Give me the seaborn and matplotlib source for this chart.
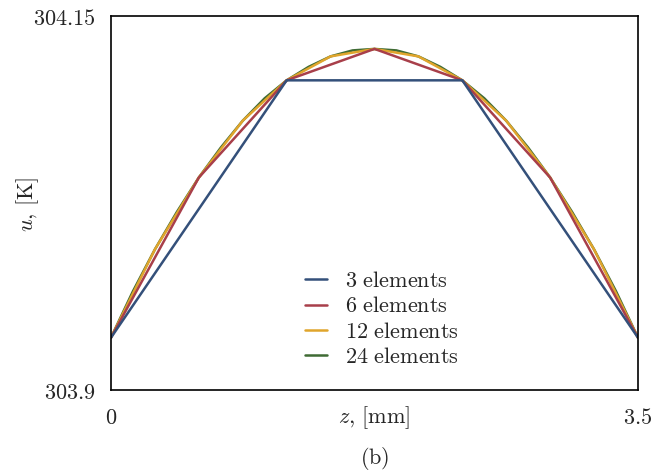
import matplotlib
matplotlib.use("Agg")
import matplotlib.pyplot as plt
import seaborn as sns
import pandas as pd
from matplotlib.ticker import FixedLocator, FixedFormatter

# ---- data ----
z3 = [0.0, 1.1667, 2.3333, 3.5]
u3 = [303.935, 304.107, 304.107, 303.935]

z6 = [0.0, 0.5833, 1.1667, 1.75, 2.3333, 2.9167, 3.5]
u6 = [303.935, 304.042, 304.107, 304.128, 304.107, 304.042, 303.935]

z12 = [0.0, 0.2917, 0.5833, 0.875, 1.1667, 1.4583, 1.75,
       2.0417, 2.3333, 2.625, 2.9167, 3.2083, 3.5]
u12 = [303.935, 303.994, 304.042, 304.080, 304.107, 304.123, 304.128,
       304.123, 304.107, 304.080, 304.042, 303.994, 303.935]

z24 = [0.0, 0.1458, 0.2917, 0.4375, 0.5833, 0.7292, 0.875, 1.0208, 1.1667,
       1.3125, 1.4583, 1.6042, 1.75, 1.8958, 2.0417, 2.1875, 2.3333, 2.4792,
       2.625, 2.7708, 2.9167, 3.0625, 3.2083, 3.3542, 3.5]
u24 = [303.935, 303.966, 303.994, 304.019, 304.042, 304.062, 304.080, 304.095,
       304.107, 304.116, 304.123, 304.127, 304.128, 304.127, 304.123, 304.116,
       304.107, 304.095, 304.080, 304.062, 304.042, 304.019, 303.994, 303.966,
       303.935]

series_names = ["3 elements", "6 elements", "12 elements", "24 elements"]
colors = ["#34507a", "#a83f4a", "#e0a52c", "#3f6b34"]
x_ticks = [0, 3.5]
x_ticklabels = ["0", "3.5"]
y_ticks = [303.9, 304.15]
y_ticklabels = ["303.9", "304.15"]

frames = []
for name, zz, uu in zip(series_names, [z3, z6, z12, z24], [u3, u6, u12, u24]):
    frames.append(pd.DataFrame({"z": zz, "u": uu, "series": name}))
df = pd.concat(frames, ignore_index=True)

sns.set_style("white")
plt.rcParams["font.family"] = ["DejaVu Serif"]
plt.rcParams["mathtext.fontset"] = "cm"

fig = plt.figure(figsize=(6.54, 4.72), dpi=100)
ax = fig.add_axes([0.1697, 0.1737, 0.8058, 0.7924])

# draw finest mesh first so coarser ones sit on top
for name, col in reversed(list(zip(series_names, colors))):
    sns.lineplot(data=df[df["series"] == name], x="z", y="u", color=col,
                 linewidth=1.8, ax=ax, sort=False, estimator=None, label=name)

ax.set_xlim(0, 3.5)
ax.set_ylim(303.9, 304.15)
ax.xaxis.set_major_locator(FixedLocator(x_ticks))
ax.xaxis.set_major_formatter(FixedFormatter([f"${t}$" for t in x_ticklabels]))
ax.yaxis.set_major_locator(FixedLocator(y_ticks))
ax.yaxis.set_major_formatter(FixedFormatter([f"${t}$" for t in y_ticklabels]))
ax.tick_params(axis="both", length=0, labelsize=16)
ax.tick_params(axis="x", pad=12)
ax.tick_params(axis="y", pad=11)

for sp in ax.spines.values():
    sp.set_color("black")
    sp.set_linewidth(1.2)

ax.set_xlabel(r"$z,\,[\mathrm{mm}]$", fontsize=16)
ax.xaxis.set_label_coords(0.5, -0.075)
ax.xaxis.label.set_va("center")
ax.set_ylabel(r"$u,\,[\mathrm{K}]$", fontsize=16)
ax.yaxis.set_label_coords(-0.159, 0.495)
ax.yaxis.label.set_va("center")

ax.text(0.5, -0.182, r"$(\mathrm{b})$", transform=ax.transAxes,
        ha="center", va="center", fontsize=16)

handles, labels = ax.get_legend_handles_labels()
order = [labels.index(n) for n in series_names]
handles = [handles[i] for i in order]
labels = [labels[i] for i in order]
leg = ax.legend(handles, [r"$\mathrm{" + l.replace(" ", r"\ ") + "}$" for l in labels],
                loc="center", bbox_to_anchor=(0.514, 0.19), frameon=False,
                fontsize=16, handlelength=1.0, handletextpad=0.8,
                labelspacing=0.15)

fig.savefig("out.png", dpi=100)
